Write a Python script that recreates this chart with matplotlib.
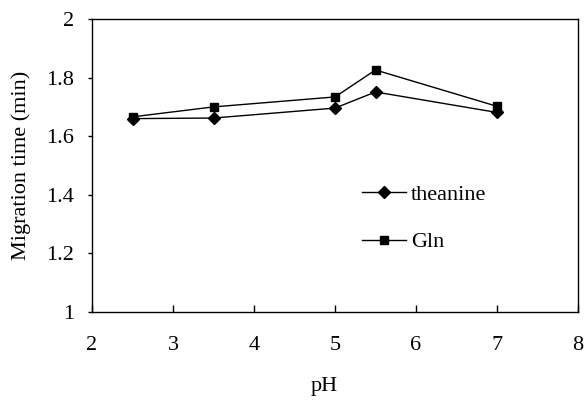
import matplotlib
matplotlib.use('Agg')
import matplotlib.pyplot as plt

plt.rcParams['font.family'] = ['Liberation Serif', 'DejaVu Serif']

# data
ph = [2.5, 3.5, 5, 5.5, 7]
theanine = [1.66, 1.662, 1.696, 1.751, 1.681]
gln = [1.666, 1.700, 1.734, 1.826, 1.702]

fs = 16

fig = plt.figure(figsize=(5.84, 4.0), dpi=100)
ax = fig.add_axes([92/584, 88/400, 486/584, 293/400])

ax.plot(ph, theanine, color='k', lw=1, marker='D', ms=6, label='theanine')
ax.plot(ph, gln, color='k', lw=1, marker='s', ms=6, label='Gln')

ax.set_xlim(2, 8)
ax.set_ylim(1, 2)
ax.set_xticks([2, 3, 4, 5, 6, 7, 8])
ax.set_yticks([1, 1.2, 1.4, 1.6, 1.8, 2])
ax.set_yticklabels(['1', '1.2', '1.4', '1.6', '1.8', '2'])

ax.tick_params(axis='x', direction='in', length=5, width=1, pad=17, labelsize=fs)
ax.tick_params(axis='y', direction='out', length=3, width=1, pad=10, labelsize=fs)
for sp in ax.spines.values():
    sp.set_linewidth(1)

ax.set_xlabel('pH', fontsize=fs, labelpad=16)
ax.xaxis.label.set_x(0.477)
ax.set_ylabel('Migration time (min)', fontsize=fs, labelpad=11)

ax.legend(loc='center left', bbox_to_anchor=(0.556, 0.319), frameon=False,
          fontsize=fs, handlelength=1.95, handletextpad=0.25, labelspacing=1.2,
          borderpad=0, borderaxespad=0)

fig.savefig('out.png', dpi=100)
